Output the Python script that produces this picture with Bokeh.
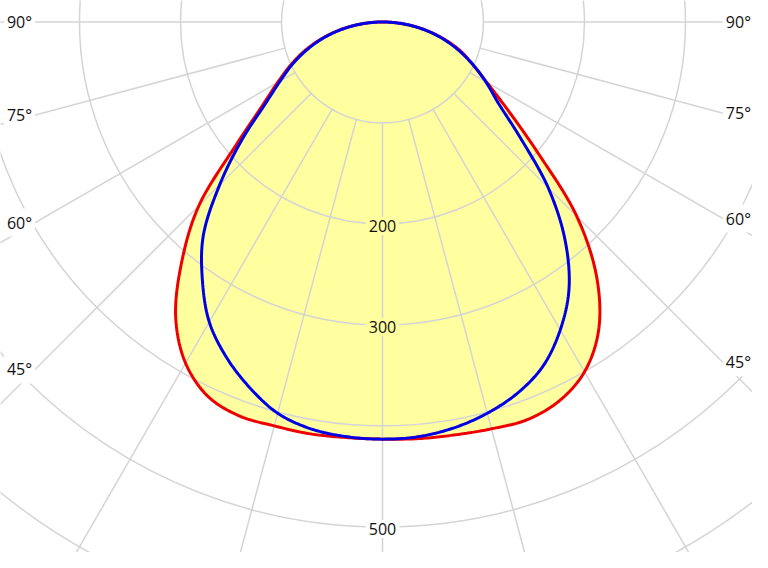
import numpy as np
from bokeh.plotting import figure
from bokeh.models import Range1d, Label
from bokeh.embed import file_html
from bokeh.resources import INLINE

# ---- data (cd) at gamma angles, 0 = straight down ----
angles = [0, 5, 10, 15, 20, 25, 30, 35, 40, 45, 50, 55, 60, 65, 70, 75, 80, 85, 90]
red_right = [413, 414, 415, 417, 419, 414, 400, 373, 330, 272, 200, 151, 119, 98, 81, 61, 41, 20, 0]
red_left = [413, 413, 414, 414, 415, 409, 390, 357, 309, 257, 189, 146, 120, 100, 81, 61, 41, 20, 0]
blue_right = [413, 412, 408, 401, 391, 376, 352, 322, 281, 232, 178, 140, 118, 98, 79, 60, 40, 20, 0]
blue_left = [413, 412, 409, 401, 385, 366, 343, 311, 276, 228, 182, 142, 117, 98, 79, 60, 40, 20, 0]

ring_values = [100, 200, 300, 400, 500, 600]
ring_labels = [200, 300, 500]
spoke_angles = [-90, -75, -60, -45, -30, -15, 0, 15, 30, 45, 60, 75, 90]
angle_labels = [90, 75, 60, 45]

GRID = "#d4d4d4"
FILL = "#ffffa0"
RED = "#ee0000"
BLUE = "#0000e6"
FONT = "Open Sans"


def loop_points(right, left):
    a = np.radians(np.array(angles, float))
    r = np.array(right, float)
    l = np.array(left, float)
    xl = -l * np.sin(a)
    yl = -l * np.cos(a)
    xr = r * np.sin(a)
    yr = -r * np.cos(a)
    xs = np.concatenate([xl[::-1], xr[1:-1]])
    ys = np.concatenate([yl[::-1], yr[1:-1]])
    return np.column_stack([xs, ys])


def centripetal_closed(P, sub=16, alpha=0.5):
    n = len(P)
    out = []
    for i in range(n):
        p0, p1, p2, p3 = P[i - 1], P[i], P[(i + 1) % n], P[(i + 2) % n]
        t0 = 0.0
        t1 = t0 + np.linalg.norm(p1 - p0) ** alpha
        t2 = t1 + np.linalg.norm(p2 - p1) ** alpha
        t3 = t2 + np.linalg.norm(p3 - p2) ** alpha
        for t in np.linspace(t1, t2, sub, endpoint=False):
            a1 = (t1 - t) / (t1 - t0) * p0 + (t - t0) / (t1 - t0) * p1
            a2 = (t2 - t) / (t2 - t1) * p1 + (t - t1) / (t2 - t1) * p2
            a3 = (t3 - t) / (t3 - t2) * p2 + (t - t2) / (t3 - t2) * p3
            b1 = (t2 - t) / (t2 - t0) * a1 + (t - t0) / (t2 - t0) * a2
            b2 = (t3 - t) / (t3 - t1) * a2 + (t - t1) / (t3 - t1) * a3
            c = (t2 - t) / (t2 - t1) * b1 + (t - t1) / (t2 - t1) * b2
            out.append(c)
    out.append(out[0])
    out = np.array(out)
    return out[:, 0], out[:, 1]


S = 1.01       # px per cd
CX, CY = 382, 21.5   # pole position in px
W, H = 752, 552
p = figure(width=W, height=H,
           x_range=Range1d(-CX / S, (W - CX) / S),
           y_range=Range1d(-(H - CY) / S, CY / S),
           x_axis_type=None, y_axis_type=None,
           output_backend="svg", toolbar_location=None,
           min_border=0, outline_line_color=None)
p.background_fill_color = "white"
p.border_fill_color = "white"

rx, ry = centripetal_closed(loop_points(red_right, red_left))
bx, by = centripetal_closed(loop_points(blue_right, blue_left))

p.patch(rx, ry, fill_color=FILL, line_color=None)
p.patch(bx, by, fill_color=FILL, line_color=None)

for r in ring_values:
    p.circle(x=[0], y=[0], radius=r, fill_color=None, line_color=GRID, line_width=1.5)

sa = np.radians(np.array(spoke_angles, float))
p.segment(x0=100 * np.sin(sa), y0=-100 * np.cos(sa),
          x1=1000 * np.sin(sa), y1=-1000 * np.cos(sa),
          line_color=GRID, line_width=1.5)

p.line(rx, ry, line_color=RED, line_width=3)
p.line(bx, by, line_color=BLUE, line_width=3)

for v in ring_labels:
    inside = v < red_right[0]
    p.add_layout(Label(x=0, y=-v, text=str(v), text_align="center", text_baseline="middle",
                       y_offset=-2, text_font=FONT, text_font_size="16px", text_color="#111111",
                       background_fill_color=FILL if inside else "white", padding=3))

LXL, LXR = 344, 337
for a in angle_labels:
    t = np.tan(np.radians(a))
    yl = -LXL / t if a != 90 else 0.0
    yr = -LXR / t if a != 90 else 0.0
    p.add_layout(Label(x=-LXL, y=yl, text=f"{a}°", text_align="right", text_baseline="middle",
                       text_font=FONT, text_font_size="16px", text_color="#111111",
                       background_fill_color="white", padding=3))
    p.add_layout(Label(x=LXR, y=yr, text=f"{a}°", text_align="left", text_baseline="middle",
                       text_font=FONT, text_font_size="16px", text_color="#111111",
                       background_fill_color="white", padding=3))

open("out.html", "w").write(file_html(p, INLINE))
